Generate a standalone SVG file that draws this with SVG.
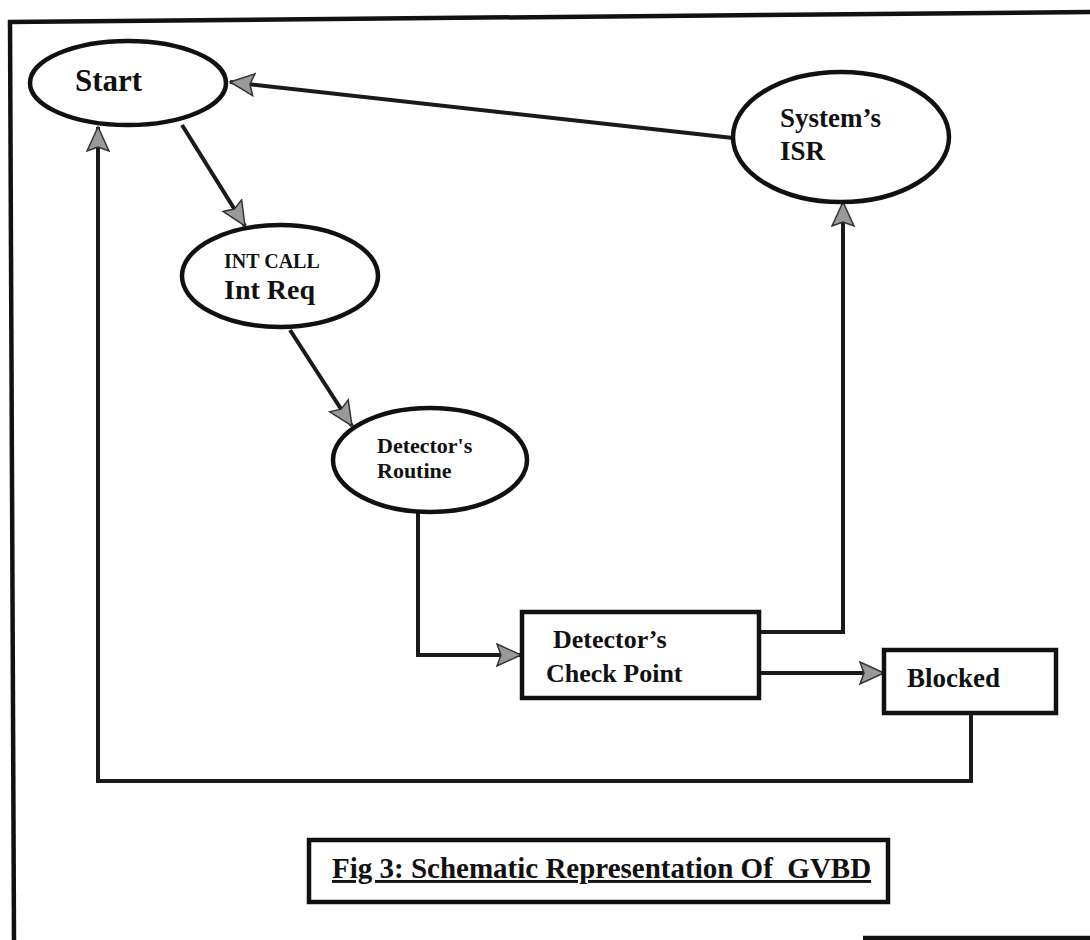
<svg xmlns="http://www.w3.org/2000/svg" width="1090" height="940" viewBox="0 0 1090 940">
<style>
  .node { fill: #ffffff; stroke: #111111; stroke-width: 4.5; }
  .conn { fill: none; stroke: #1a1a1a; stroke-width: 4; stroke-linejoin: miter; }
  .frame { fill: none; stroke: #111111; stroke-width: 4.5; }
  text { font-family: "Liberation Serif", "Times New Roman", serif; font-weight: bold; fill: #111111; }
</style>
<defs>
  <marker id="arr" markerUnits="userSpaceOnUse" markerWidth="30" markerHeight="30" refX="25" refY="12" orient="auto">
    <path d="M1,1 L25,12 L1,23 L5,12 Z" fill="#9a9a9a" stroke="#333333" stroke-width="1.5" stroke-linejoin="miter"/>
  </marker>
</defs>
<rect width="1090" height="940" fill="#ffffff"/>
<g id="frame">
  <line class="frame" x1="8" y1="22" x2="1090" y2="12"/>
  <line class="frame" x1="10" y1="20" x2="14" y2="940"/>
  <line class="frame" x1="863" y1="938" x2="1090" y2="938"/>
</g>
<g id="connectors">
  <line class="conn" x1="733" y1="138" x2="230" y2="82" marker-end="url(#arr)"/>
  <line class="conn" x1="182" y1="125" x2="245" y2="226" marker-end="url(#arr)"/>
  <line class="conn" x1="290" y1="330" x2="352" y2="426" marker-end="url(#arr)"/>
  <path class="conn" d="M418,512 V655 H521" marker-end="url(#arr)"/>
  <path class="conn" d="M759,632 H843 V202" marker-end="url(#arr)"/>
  <path class="conn" d="M759,673 H884" marker-end="url(#arr)"/>
  <path class="conn" d="M971,713 V781 H98 V127" marker-end="url(#arr)"/>
</g>
<g id="start">
  <ellipse class="node" cx="128" cy="83" rx="98" ry="42"/>
  <text x="75" y="91" font-size="31">Start</text>
</g>
<g id="intreq">
  <ellipse class="node" cx="280" cy="276" rx="98" ry="51"/>
  <text x="224" y="268" font-size="20">INT CALL</text>
  <text x="224" y="299" font-size="28">Int Req</text>
</g>
<g id="routine">
  <ellipse class="node" cx="430" cy="460" rx="97" ry="52"/>
  <text x="377" y="453" font-size="22">Detector's</text>
  <text x="377" y="478" font-size="22">Routine</text>
</g>
<g id="checkpoint">
  <rect class="node" x="522" y="612" width="237" height="86"/>
  <text x="553" y="648" font-size="26">Detector’s</text>
  <text x="546" y="682" font-size="26">Check Point</text>
</g>
<g id="blocked">
  <rect class="node" x="884" y="650" width="172" height="63"/>
  <text x="907" y="687" font-size="27">Blocked</text>
</g>
<g id="isr">
  <ellipse class="node" cx="841" cy="137" rx="108" ry="65"/>
  <text x="780" y="127" font-size="27">System’s</text>
  <text x="780" y="160" font-size="27">ISR</text>
</g>
<g id="caption">
  <rect class="node" x="309" y="840" width="579" height="62"/>
  <text x="332" y="878" font-size="29" text-decoration="underline" xml:space="preserve">Fig 3: Schematic Representation Of  GVBD</text>
</g>
</svg>
